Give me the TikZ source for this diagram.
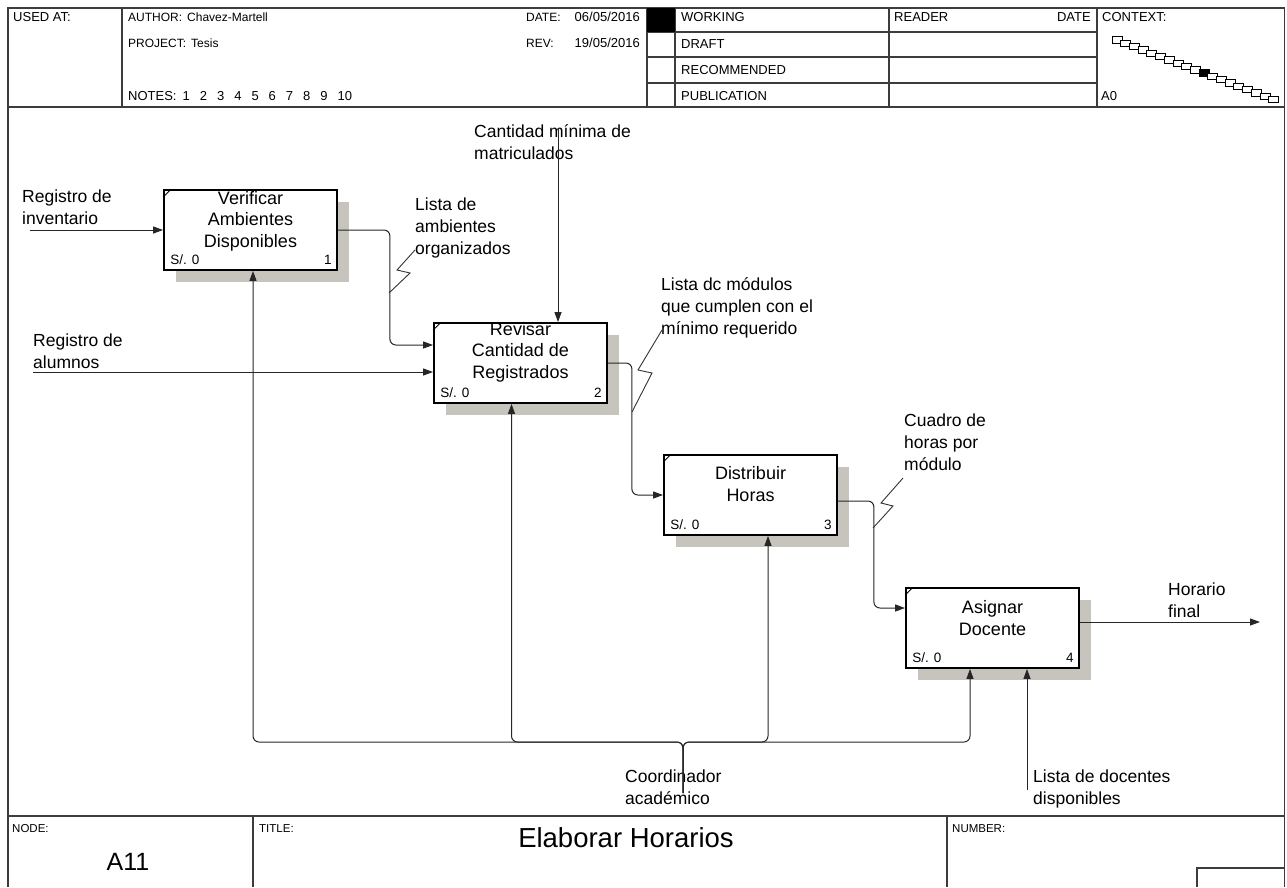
\documentclass[tikz,border=0pt]{standalone}
\usepackage{fontspec}
\setmainfont{Liberation Sans}
\usetikzlibrary{arrows.meta,shadows}
\definecolor{shadowgray}{RGB}{198,196,188}
\definecolor{rulegray}{RGB}{60,60,60}

\begin{document}
\begin{tikzpicture}[x=1pt,y=-1pt,
  frameline/.style={draw=rulegray, line width=1.1pt},
  hdr/.style={font=\fontsize{13}{15}\selectfont, inner sep=0pt, anchor=base west},
  hdrR/.style={hdr, anchor=base east},
  hdrsm/.style={hdr, font=\fontsize{12}{14}\selectfont},
  lbl/.style={font=\fontsize{17.5}{22}\selectfont, align=left, inner sep=0pt, anchor=north west},
  act/.style={draw=black, line width=1.8pt, fill=white, minimum width=173pt,
    minimum height=80pt, inner sep=0pt,
    general shadow={fill=shadowgray, shadow xshift=12pt, shadow yshift=-12pt}},
  acttext/.style={font=\fontsize{18}{21.5}\selectfont, align=center, inner sep=0pt},
  small/.style={font=\fontsize{13.5}{15}\selectfont, inner sep=0pt},
  flow/.style={draw=black!85, line width=1pt, rounded corners=6pt,
    -{Triangle[length=10pt,width=7pt]}},
  squig/.style={draw=black!80, line width=0.9pt},
  tick/.style={draw=black, line width=1pt},
]
\useasboundingbox (0,0) rectangle (1287,887);

% ---------- form frame ----------
\draw[frameline] (8,887) -- (8,8) -- (1284.5,8) -- (1284.5,887);
\draw[frameline] (8,107) -- (1284.5,107);
\draw[frameline] (122,8) -- (122,107);
\draw[frameline] (647,8) -- (647,107);
\draw[frameline] (675,8) -- (675,107);
\draw[frameline] (889,8) -- (889,107);
\draw[frameline] (1097,8) -- (1097,107);
\foreach \yy in {32,57,83} \draw[frameline] (647,\yy) -- (1097,\yy);
\fill[black] (647,8) rectangle (675,32);

% header texts
\node[hdr] (usedat) at (13,21) {USED AT:};
\node[hdrsm] (author) at (128,21) {AUTHOR:\hspace{5pt}Chavez-Martell};
\node[hdrsm] (project) at (128,47) {PROJECT:\hspace{5pt}Tesis};
\node[hdr] (notes) at (128,100) {NOTES:\hspace{6pt}1\hspace{10pt}2\hspace{10pt}3\hspace{10pt}4\hspace{10pt}5\hspace{10pt}6\hspace{10pt}7\hspace{10pt}8\hspace{10pt}9\hspace{10pt}10};
\node[hdrsm] (datelbl) at (526,21) {DATE:};
\node[hdrR] (dateval) at (640,21) {06/05/2016};
\node[hdrsm] (revlbl) at (526,47) {REV:};
\node[hdrR] (revval) at (640,47) {19/05/2016};
\node[hdr] (working) at (681,21) {WORKING};
\node[hdr] (draft) at (681,48) {DRAFT};
\node[hdr] (recommended) at (681,74) {RECOMMENDED};
\node[hdr] (publication) at (681,100) {PUBLICATION};
\node[hdr] (reader) at (894,21) {READER};
\node[hdrR] (readerdate) at (1091,21) {DATE};
\node[hdr] (context) at (1102,21) {CONTEXT:};
\node[hdr] (ctxnode) at (1101,100) {A0};

% context chain of diagrams
\foreach \i in {0,...,18} {
  \pgfmathsetmacro\cx{1117+\i*8.7}
  \pgfmathsetmacro\cy{40+\i*3.3}
  \ifnum\i=10
    \draw[line width=0.8pt, fill=black] (\cx-5,\cy-3.2) rectangle (\cx+5,\cy+3.2);
  \else
    \draw[line width=0.8pt, fill=white] (\cx-5,\cy-3.2) rectangle (\cx+5,\cy+3.2);
  \fi
}

% footer
\draw[frameline] (8,816) -- (1284.5,816);
\draw[frameline] (253,816) -- (253,887);
\draw[frameline] (947,816) -- (947,887);
\draw[frameline] (1197,887) -- (1197,868) -- (1284.5,868);
\node[hdr, font=\fontsize{11.5}{13}\selectfont] (nodelbl) at (12,832) {NODE:};
\node[hdr, font=\fontsize{11.5}{13}\selectfont] (titlelbl) at (259,832) {TITLE:};
\node[hdr, font=\fontsize{11.5}{13}\selectfont] (numberlbl) at (952,832) {NUMBER:};
\node[font=\fontsize{27.5}{30}\selectfont, inner sep=0pt] (title) at (626,838) {Elaborar Horarios};
\node[font=\fontsize{25}{28}\selectfont, inner sep=0pt] (nodeid) at (128,862) {A11};

% ---------- activities ----------
\node[act] (b1) at (250.5,230) {};
\node[act] (b2) at (520.5,363) {};
\node[act] (b3) at (750.5,495) {};
\node[act] (b4) at (992.5,628) {};

\node[acttext] (t1) at ([yshift=9pt]b1.center) {Verificar\\Ambientes\\Disponibles};
\node[acttext] (t2) at ([yshift=11pt]b2.center) {Revisar\\Cantidad de\\Registrados};
\node[acttext] (t3) at ([yshift=11pt]b3.center) {Distribuir\\Horas};
\node[acttext] (t4) at ([yshift=10pt]b4.center) {Asignar\\Docente};

\foreach \b/\n in {b1/1,b2/2,b3/3,b4/4} {
  \node[small, anchor=base west] (\b cost) at ([xshift=7pt,yshift=6pt]\b.south west) {S/. 0};
  \node[small, anchor=base east] (\b num) at ([xshift=-6pt,yshift=6pt]\b.south east) {\n};
  \draw[tick] ([yshift=-8pt]\b.north west) -- ([xshift=8pt]\b.north west);
}

% ---------- labels ----------
\node[lbl] (l_inv) at (22,190) {Registro de\\inventario};
\node[lbl] (l_alu) at (33,334) {Registro de\\alumnos};
\node[lbl] (l_min) at (474,124) {Cantidad mínima de\\matriculados};
\node[lbl] (l_amb) at (415,198) {Lista de\\ambientes\\organizados};
\node[lbl] (l_mod) at (661,277) {Lista dc módulos\\que cumplen con el\\mínimo requerido};
\node[lbl] (l_cua) at (904,414) {Cuadro de\\horas por\\módulo};
\node[lbl] (l_hor) at (1168,583) {Horario\\final};
\node[lbl] (l_coo) at (625,770) {Coordinador\\académico};
\node[lbl] (l_doc) at (1033,770) {Lista de docentes\\disponibles};

% ---------- arrows ----------
\coordinate (in1) at (30,230);
\coordinate (in2) at (33,372);
\coordinate (ctl) at (558,128);
\coordinate (out) at (1260,622);
\coordinate (mech) at (683,793);
\coordinate (mech2) at (1027,790);

\draw[flow] (in1) -- (b1.west);
\draw[flow] (in2) -- ([yshift=-9pt]b2.west);
\draw[flow] (ctl) -- ([xshift=37.5pt]b2.north);
\draw[flow] (b1.east) -- ++(52,0) |- ([yshift=18pt]b2.west);
\draw[flow] (b2.east) -- ++(24,0) |- (b3.west);
\draw[flow] ([yshift=-6pt]b3.east) -- ++(36,0) |- ([yshift=20pt]b4.west);
\draw[flow] ([yshift=6pt]b4.east) -- (out);

\draw[flow] (mech) -- (683,742) -| ([xshift=2.5pt]b1.south);
\draw[flow] (mech) -- (683,742) -| ([xshift=-9pt]b2.south);
\draw[flow] (mech) -- (683,742) -| ([xshift=17.5pt]b3.south);
\draw[flow] (mech) -- (683,742) -| ([xshift=-22.5pt]b4.south);
\draw[flow] (mech2) -- ([xshift=34.5pt]b4.south);

% squiggles tying labels to arrows
\draw[squig] (389,293) -- (410,273) -- (397,270) -- (415,250);
\draw[squig] (632,412) -- (652,373) -- (638,370) -- (662,330);
\draw[squig] (873,528) -- (893,506) -- (881,503) -- (903,478);

\end{tikzpicture}
\end{document}
